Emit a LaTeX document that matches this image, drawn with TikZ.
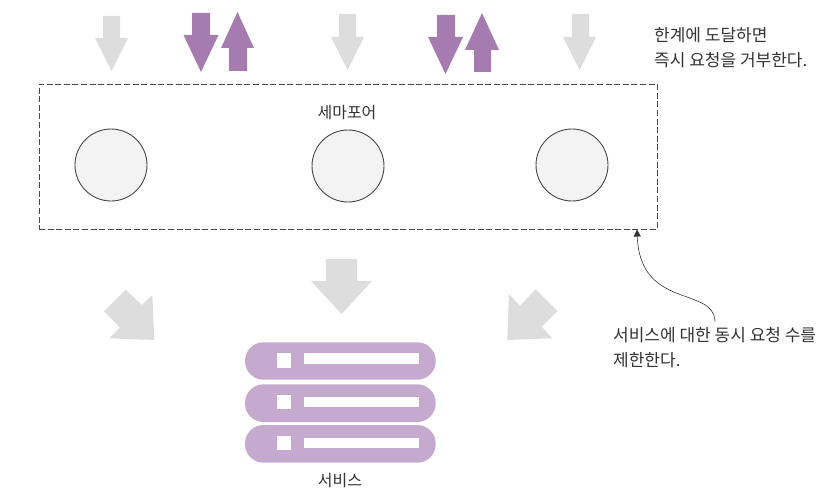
\documentclass[tikz,border=0pt]{standalone}
\usepackage{fontspec}
\setmainfont{Noto Sans CJK KR}
\usetikzlibrary{arrows.meta}
\definecolor{grayarrow}{HTML}{DDDDDD}
\definecolor{purplearrow}{HTML}{A67BB0}
\definecolor{svcpurple}{HTML}{C6A9CE}
\definecolor{ink}{HTML}{333333}
\definecolor{circlefill}{HTML}{F3F3F3}
\tikzset{
  grayfill/.style={fill=grayarrow,draw=none},
  purplefill/.style={fill=purplearrow,draw=none},
  semcircle/.style={circle,draw=ink!90,line width=0.9pt,fill=circlefill,minimum size=72pt,inner sep=0pt},
  sembox/.style={draw=ink!90,line width=0.9pt,dash pattern=on 6pt off 2.6pt},
  label/.style={text=ink,font=\fontsize{16pt}{25pt}\selectfont,inner sep=0pt},
  note/.style={text=ink,font=\fontsize{17pt}{25pt}\selectfont,inner sep=0pt},
  barbox/.style={fill=svcpurple,draw=none,rounded corners=18.5pt},
  hole/.style={fill=white,draw=none},
  callout/.style={draw=ink,line width=0.6pt,-{Triangle[length=7pt,width=7pt]}}
}
\newcommand{\dnarrow}[8]{\fill[#1] (#2,#4) -- (#3,#4) -- (#3,#5) -- (#7,#5) -- ({(#6+#7)/2},#8) -- (#6,#5) -- (#2,#5) -- cycle;}
\begin{document}
\begin{tikzpicture}[x=1pt,y=-1pt]
\useasboundingbox (0,0) rectangle (829,492);
% top arrows
\dnarrow{grayfill}{103}{120}{16}{38}{95}{128}{71}
\dnarrow{purplefill}{192}{210}{13}{35}{183.5}{218.5}{72}
\dnarrow{purplefill}{229}{247}{71}{48}{221}{254}{12}
\dnarrow{grayfill}{339}{356}{14}{37}{331}{364}{70}
\dnarrow{purplefill}{437}{455}{15}{37}{428}{463}{74}
\dnarrow{purplefill}{474}{491}{72}{50}{465}{499}{13}
\dnarrow{grayfill}{572}{589}{14}{37}{563}{596}{70}
% semaphore
\node[sembox,draw,minimum width=618pt,minimum height=145pt,inner sep=0pt] (sem) at (348,156.5) {};
\node[label] (semlabel) at (347,113) {세마포어};
\node[semcircle] (c1) at (111,165) {};
\node[semcircle] (c2) at (348,166) {};
\node[semcircle] (c3) at (572,165) {};
% lower arrows
\dnarrow{grayfill}{326}{357}{259}{281}{311}{372}{314}
\fill[grayfill] (125.7,289.7) -- (141.7,305) -- (152.3,295) -- (154.3,340) -- (109.3,338.3) -- (120,327.7) -- (104,311.3) -- cycle;
\fill[grayfill] (535.7,289.3) -- (557.3,311) -- (541.7,326.7) -- (552.3,338.3) -- (507.3,340) -- (509,294.3) -- (520,305.7) -- cycle;
% service
\fill[barbox] (245,342.3) rectangle (435.7,379.7);
\fill[barbox] (245,384.3) rectangle (435.7,422);
\fill[barbox] (245,425) rectangle (435.7,462.7);
\fill[hole] (276.7,353.3) rectangle (291,367.7);
\fill[hole] (276.7,395) rectangle (291,409.3);
\fill[hole] (276.7,436) rectangle (291,450);
\fill[hole] (303.7,353.3) rectangle (419,364);
\fill[hole] (303.7,397) rectangle (419,407);
\fill[hole] (303.7,438) rectangle (419,448);
\node[label] (svc) at (340,481) {서비스};
% notes
\node[note,anchor=north west,align=left] (note1) at (654,27) {한계에 도달하면\\즉시 요청을 거부한다.};
\node[note,anchor=north west,align=left] (note2) at (613,327) {서비스에 대한 동시 요청 수를\\제한한다.};
\coordinate (tail) at (715,321.5);
\coordinate (tip) at (637,229.5);
\draw[callout] (tail) .. controls (714,286) and (640,310) .. (tip);
\end{tikzpicture}
\end{document}
